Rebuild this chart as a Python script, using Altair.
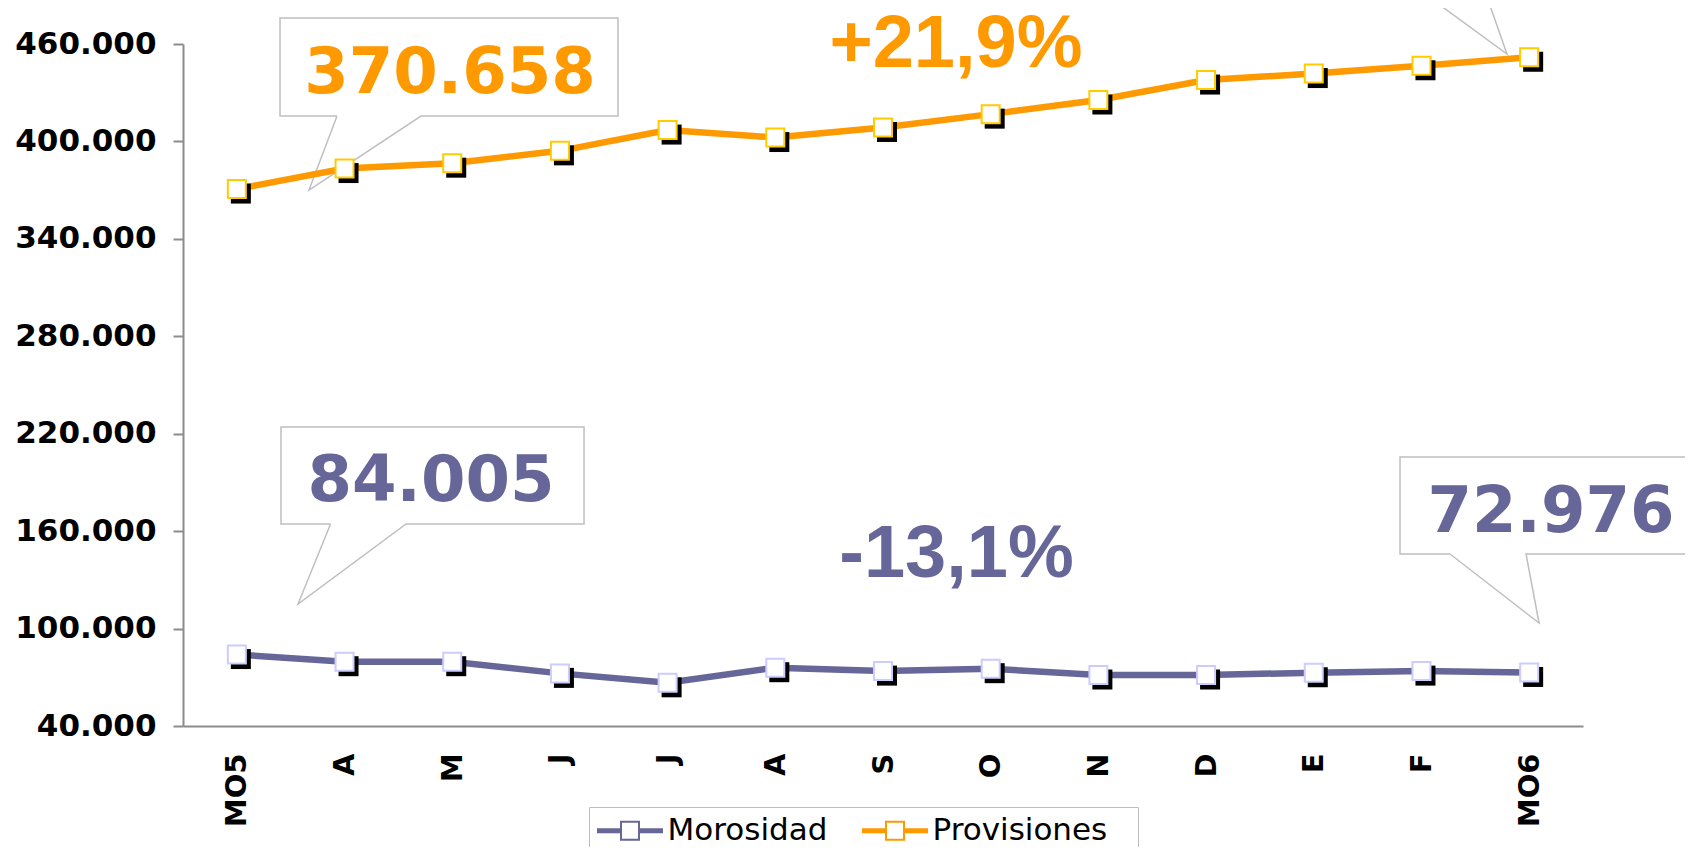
import altair as alt
import pandas as pd

# ---------------- data ----------------
months = ["MO5", "A", "M", "J", "J", "A", "S", "O", "N", "D", "E", "F", "MO6"]
morosidad = [84005, 79600, 79600, 72400, 66600, 75900, 73800, 75300, 71400, 71400, 72800, 73800, 72976]
provisiones = [370658, 383300, 386600, 394200, 407000, 402400, 408600, 416800, 425500, 437800, 441800, 446600, 451832]
series_names = ["Morosidad", "Provisiones"]
y_ticks = [40000, 100000, 160000, 220000, 280000, 340000, 400000, 460000]

# annotation texts and their anchors (x = month index, y = value units)
value_labels = ["370.658", "84.005", "72.976"]
value_label_x = [1.979, 1.803, 12.203]
value_label_y = [429639, 178561, 159655]
value_label_series = ["Provisiones", "Morosidad", "Morosidad"]

change_labels = ["+21,9%", "-13,1%"]
change_label_x = [6.678, 6.683]
change_label_y = [446020, 131943]
change_label_series = ["Provisiones", "Morosidad"]

# callout outlines (x = month index, y = value units)
callout_ids = ["c1"] * 8 + ["c2"] * 3 + ["c3"] * 8 + ["c4"] * 8
callout_x = [0.930, 0.401, 0.401, 3.539, 3.539, 1.710, 0.670, 0.930,
             10.853, 11.794, 11.553,
             0.870, 0.410, 0.410, 3.224, 3.224, 1.571, 0.568, 0.870,
             11.265, 10.801, 10.801, 13.772, 13.772, 11.971, 12.092, 11.265]
callout_y = [415660, 415660, 476012, 476012, 415660, 415660, 370087, 415660,
             499414, 453842, 499414,
             164397, 164397, 224133, 224133, 164397, 164397, 115130, 164397,
             145922, 145922, 205658, 205658, 145922, 145922, 103429, 145922]

# ---------------- tables ----------------
rows = []
for i, m in enumerate(months):
    rows.append({"idx": i, "month": m, "series": "Morosidad", "value": morosidad[i]})
for i, m in enumerate(months):
    rows.append({"idx": i, "month": m, "series": "Provisiones", "value": provisiones[i]})
df = pd.DataFrame(rows)

df_values = pd.DataFrame({"idx": value_label_x, "value": value_label_y,
                          "label": value_labels, "series": value_label_series})
df_changes = pd.DataFrame({"idx": change_label_x, "value": change_label_y,
                           "label": change_labels, "series": change_label_series})
seq = []
counts = {}
for c in callout_ids:
    counts[c] = counts.get(c, 0) + 1
    seq.append(counts[c])
df_callouts = pd.DataFrame({"cid": callout_ids, "seq": seq, "idx": callout_x, "value": callout_y})

PURPLE = "#666699"
ORANGE = "#FF9900"

month_expr = "[" + ",".join("'" + m + "'" for m in months) + "][datum.value]"

x_enc = alt.X(
    "idx:Q",
    scale=alt.Scale(domain=[-0.5, len(months) - 0.5], nice=False, zero=False),
    axis=alt.Axis(
        title=None, values=list(range(len(months))), labelExpr=month_expr,
        labelAngle=-90, labelFont="DejaVu Sans", labelFontWeight="bold",
        labelFontSize=29, labelColor="black", labelPadding=27,
        ticks=False, tickSize=0, grid=False,
        domainColor="#8C8C8C", domainWidth=2,
    ),
)
y_enc = alt.Y(
    "value:Q",
    scale=alt.Scale(domain=[40000, 460000], nice=False, zero=False),
    axis=alt.Axis(
        title=None, values=y_ticks,
        labelExpr="replace(format(datum.value, ','), ',', '.')",
        labelFont="DejaVu Sans", labelFontWeight="bold", labelFontSize=31,
        labelColor="black", labelPadding=17,
        tickSize=10, tickColor="#8C8C8C", tickWidth=2, grid=False,
        domainColor="#8C8C8C", domainWidth=2,
    ),
)

# legend swatch: thick line (three parallel strokes) with a hollow square in the middle
legend_symbol = ("M-3.3,-0.15H-0.9 M-3.3,0H-0.9 M-3.3,0.15H-0.9 "
                 "M0.9,-0.15H3.3 M0.9,0H3.3 M0.9,0.15H3.3 "
                 "M-0.9,-0.9H0.9V0.9H-0.9Z")
PAD = "\u2800"  # blank (non-whitespace) filler widening the legend box on the right

base = alt.Chart(df)

lines = base.mark_line(strokeWidth=6.5).encode(
    x=x_enc, y=y_enc,
    color=alt.Color(
        "series:N",
        scale=alt.Scale(domain=series_names, range=[PURPLE, ORANGE]),
        legend=alt.Legend(
            title=None, orient="none", legendX=406, legendY=763,
            direction="horizontal", symbolType=legend_symbol, symbolSize=400,
            symbolStrokeWidth=2, symbolFillColor="white",
            symbolOffset=17.5, labelOffset=22, columnPadding=30,
            labelFont="DejaVu Sans", labelFontSize=31, labelColor="black",
            labelExpr="datum.label == 'Provisiones' ? datum.label + '" + PAD + "' : datum.label",
            labelLimit=400, padding=8, strokeColor="#BFBFBF", fillColor="white",
        ),
    ),
)

shadows = base.mark_square(size=400, color="black", filled=True, opacity=1,
                           xOffset=4, yOffset=4.5).encode(
    x=x_enc, y=y_enc, detail="series:N")

markers = base.mark_square(size=324, fill="white", filled=True, opacity=1,
                           strokeWidth=2).encode(
    x=x_enc, y=y_enc,
    stroke=alt.Stroke("series:N",
                      scale=alt.Scale(domain=series_names, range=["#CCCCFF", "#FFCC00"]),
                      legend=None),
)

callouts = alt.Chart(df_callouts).mark_line(color="#BFBFBF", strokeWidth=1.5).encode(
    x=x_enc, y=y_enc, detail="cid:N", order="seq:Q")

val_orange = alt.Chart(df_values).transform_filter(alt.datum.series == "Provisiones").mark_text(
    font="DejaVu Sans", fontWeight="bold", fontSize=64, align="center",
    baseline="alphabetic", color=ORANGE).encode(x=x_enc, y=y_enc, text="label:N")
val_purple = alt.Chart(df_values).transform_filter(alt.datum.series == "Morosidad").mark_text(
    font="DejaVu Sans", fontWeight="bold", fontSize=64, align="center",
    baseline="alphabetic", color=PURPLE).encode(x=x_enc, y=y_enc, text="label:N")

chg_orange = alt.Chart(df_changes).transform_filter(alt.datum.series == "Provisiones").mark_text(
    font="Liberation Sans", fontWeight="bold", fontSize=74, align="center",
    baseline="alphabetic", color=ORANGE).encode(x=x_enc, y=y_enc, text="label:N")
chg_purple = alt.Chart(df_changes).transform_filter(alt.datum.series == "Morosidad").mark_text(
    font="Liberation Sans", fontWeight="bold", fontSize=74, align="center",
    baseline="alphabetic", color=PURPLE).encode(x=x_enc, y=y_enc, text="label:N")

chart = alt.layer(
    callouts, lines, shadows, markers, val_orange, val_purple, chg_orange, chg_purple
).properties(
    width=1400, height=682,
    padding={"left": 175, "top": 36, "right": 102, "bottom": 121},
    autosize=alt.AutoSizeParams(type="none"),
    background="white",
).configure_view(stroke=None)

chart.save("out.html", embed_options={"renderer": "svg", "actions": False})
